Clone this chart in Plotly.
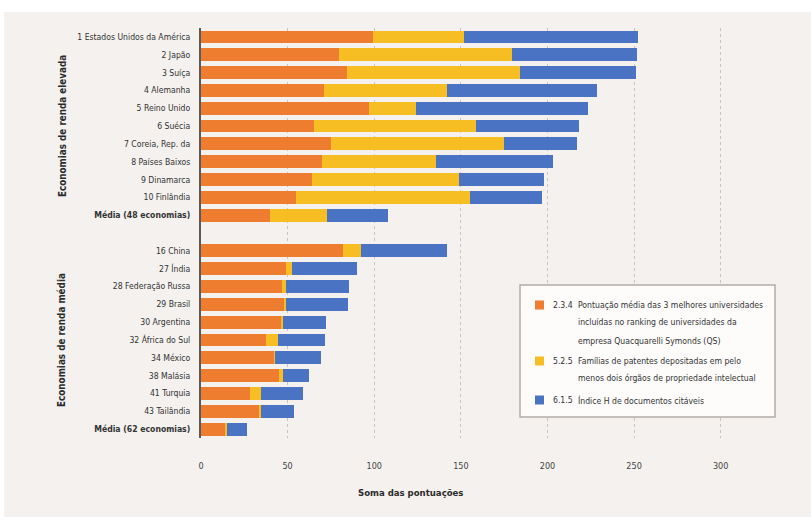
import plotly.graph_objects as go

# --- data -------------------------------------------------------------
countries_high = ["1 Estados Unidos da América", "2 Japão", "3 Suíça", "4 Alemanha",
                  "5 Reino Unido", "6 Suécia", "7 Coreia, Rep. da", "8 Países Baixos",
                  "9 Dinamarca", "10 Finlândia", "Média (48 economias)"]
uni_high = [99, 79.5, 84, 71, 97, 65, 75, 70, 64, 55, 40]
pat_high = [53, 100, 100, 71, 27, 94, 100, 65.5, 85, 100, 33]
hidx_high = [100, 72, 67, 86.5, 99.5, 59, 42, 67.5, 49, 42, 35]

countries_mid = ["16 China", "27 Índia", "28 Federação Russa", "29 Brasil", "30 Argentina",
                 "32 África do Sul", "34 México", "38 Malásia", "41 Turquia", "43 Tailândia",
                 "Média (62 economias)"]
uni_mid = [82, 49, 46.5, 48.4, 46.5, 37.5, 42.3, 44.8, 28, 34, 14]
pat_mid = [10.5, 3.3, 2.5, 0.6, 0.8, 7, 0.7, 2.7, 6.5, 0.6, 0.8]
hidx_mid = [49.5, 37.5, 36.5, 36, 25, 27.3, 26.3, 15, 24.5, 19, 11.5]

group_titles = ["Economias de renda elevada", "Economias de renda média"]
x_ticks = [0, 50, 100, 150, 200, 250, 300]
x_title = "Soma das pontuações"

series_names = [
    ("2.3.4", ["Pontuação média das 3 melhores universidades",
               "incluídas no ranking de universidades da",
               "empresa Quacquarelli Symonds (QS)"]),
    ("5.2.5", ["Famílias de patentes depositadas em pelo",
               "menos dois órgãos de propriedade intelectual"]),
    ("6.1.5", ["Índice H de documentos citáveis"]),
]
colors = ["#EE7D2F", "#F6BE22", "#4A73C3"]

# --- layout constants ----------------------------------------------------
W, H = 811, 523
L, R, T, B = 201, 47, 28, 85
PW, PH = W - L - R, H - T - B
BG = "#F4F1EE"
FONT = "DejaVu Sans Condensed, Liberation Sans Narrow, Arial Narrow, sans-serif"
TXT = "#333333"


def px(x):
    return (x - L) / PW


def py(y):
    return 1 - (y - T) / PH


# rows: high-income group, one empty slot, middle-income group
pos_high = list(range(len(countries_high)))
pos_mid = [len(countries_high) + 1 + i for i in range(len(countries_mid))]
positions = pos_high + pos_mid
labels = [f"<b>{c}</b>" if c.startswith("Média") else c
          for c in countries_high + countries_mid]

values = [uni_high + uni_mid, pat_high + pat_mid, hidx_high + hidx_mid]

fig = go.Figure()
for (code, lines), vals, col in zip(series_names, values, colors):
    fig.add_trace(go.Bar(
        y=positions, x=vals, orientation="h", width=0.72,
        marker=dict(color=col, line=dict(width=0)),
        name=code + " " + " ".join(lines), showlegend=False,
    ))

fig.update_layout(
    width=W, height=H, barmode="stack",
    margin=dict(l=L, r=R, t=T, b=B),
    paper_bgcolor=BG, plot_bgcolor=BG,
    font=dict(family=FONT, color=TXT, size=9),
    xaxis=dict(range=[0, 325], tickvals=x_ticks, showgrid=True,
               gridcolor="#C9C4C0", griddash="dot", gridwidth=1,
               zeroline=False, showline=False, ticks="",
               ticklabelstandoff=21, tickfont=dict(size=9, color="#444444")),
    yaxis=dict(range=[max(positions) + 0.5, -0.5], tickvals=positions, ticktext=labels,
               showgrid=False, zeroline=False, showline=True, linecolor="#5A5A5A",
               linewidth=2, ticks="", ticklabelstandoff=7,
               tickfont=dict(size=8.6, color=TXT)),
)

shapes = [
    # white page strips around the beige panel
    dict(type="rect", xref="paper", yref="paper", x0=px(0), x1=px(W), y0=py(0), y1=py(12),
         fillcolor="white", line=dict(width=0), layer="above"),
    dict(type="rect", xref="paper", yref="paper", x0=px(0), x1=px(4), y0=py(0), y1=py(H),
         fillcolor="white", line=dict(width=0), layer="above"),
    dict(type="rect", xref="paper", yref="paper", x0=px(0), x1=px(W), y0=py(517), y1=py(H),
         fillcolor="white", line=dict(width=0), layer="above"),
    # legend box
    dict(type="rect", xref="paper", yref="paper", x0=px(520), x1=px(775), y0=py(285), y1=py(417),
         fillcolor="#FDFCFB", line=dict(color="#B3ACA8", width=1.5), layer="above"),
]

annotations = []
# group titles, centred on their rows
for title, grp in zip(group_titles, [pos_high, pos_mid]):
    annotations.append(dict(
        text=f"<b>{title}</b>", xref="paper", yref="y", x=px(62),
        y=(grp[0] + grp[-1]) / 2, textangle=-90, showarrow=False,
        font=dict(size=9.8, color="#2B2B2B", family=FONT),
        xanchor="center", yanchor="middle"))

annotations.append(dict(
    text=f"<b>{x_title}</b>", xref="paper", yref="paper", x=px(410), y=py(493),
    showarrow=False, font=dict(size=9.5, color="#2B2B2B", family=FONT),
    xanchor="center", yanchor="middle"))

# legend entries
line_y = [[305, 322, 341], [361, 378], [400]]
for (code, lines), col, ys in zip(series_names, colors, line_y):
    shapes.append(dict(type="rect", xref="paper", yref="paper",
                       x0=px(535), x1=px(544), y0=py(ys[0] - 4.5), y1=py(ys[0] + 4.5),
                       fillcolor=col, line=dict(width=0), layer="above"))
    annotations.append(dict(text=code, xref="paper", yref="paper", x=px(551), y=py(ys[0]),
                            showarrow=False, xanchor="left", yanchor="middle",
                            font=dict(size=8.6, color=TXT, family=FONT)))
    for ln, yy in zip(lines, ys):
        annotations.append(dict(text=ln, xref="paper", yref="paper", x=px(576), y=py(yy),
                                showarrow=False, xanchor="left", yanchor="middle",
                                font=dict(size=8.6, color=TXT, family=FONT)))

fig.update_layout(shapes=shapes, annotations=annotations)
fig.write_html("out.html")
